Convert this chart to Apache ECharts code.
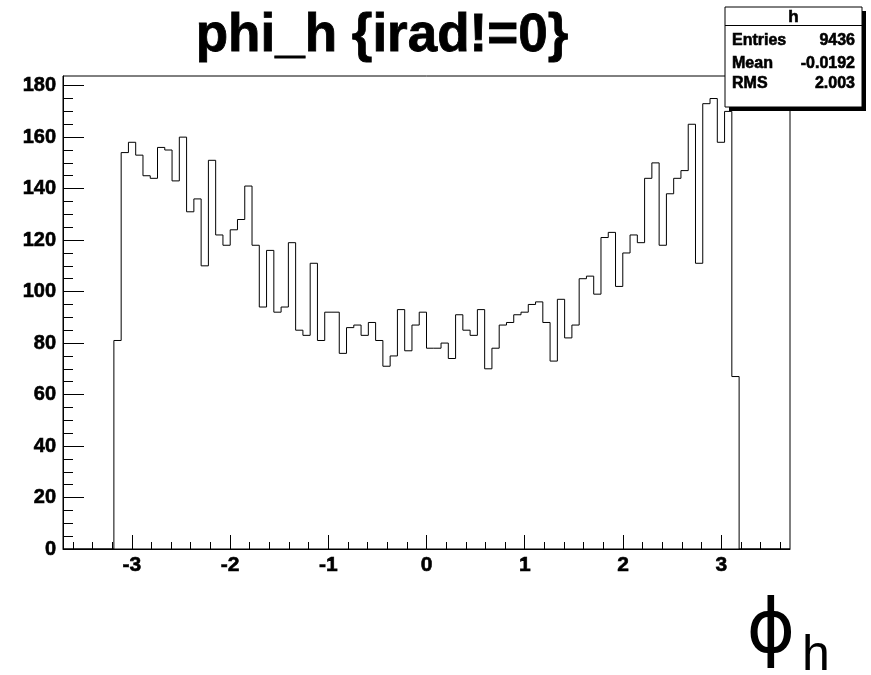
<!DOCTYPE html>
<html>
<head>
<meta charset="utf-8">
<title>phi_h {irad!=0}</title>
<script src="https://cdn.jsdelivr.net/npm/echarts@6/dist/echarts.min.js"></script>
<style>
  html, body { margin: 0; padding: 0; background: #ffffff; }
  #main { width: 871px; height: 675px; }
</style>
</head>
<body>
<div id="main"></div>
<script>
// histogram binning (100 bins over the axis range), only bins 7..92 are filled
const histMin = -3.7;
const binWidth = 0.074;
const firstFilledBin = 7;
const counts = [
  81, 154, 158, 153, 145, 144, 156, 155, 143, 160, 131, 136, 110, 151, 122, 118,
  124, 128, 141, 118, 94, 116, 92, 94, 119, 85, 83, 111, 81, 92, 92, 76,
  86, 87, 83, 88, 81, 71, 75, 93, 77, 87, 92, 78, 78, 80, 74, 91,
  85, 83, 93, 70, 78, 87, 88, 91, 92, 95, 96, 88, 73, 97, 82, 87,
  105, 106, 99, 121, 123, 102, 115, 122, 119, 144, 150, 118, 138, 144, 147, 165,
  111, 173, 175, 158, 170, 67
];

// axes
const xRange = [-3.7, 3.7];
const yRange = [0, 183.75];
const xMajorTicks = [-3, -2, -1, 0, 1, 2, 3];
const xMinorTicks = [-3.6, -3.4, -3.2, -2.8, -2.6, -2.4, -2.2, -1.8, -1.6, -1.4, -1.2,
  -0.8, -0.6, -0.4, -0.2, 0.2, 0.4, 0.6, 0.8, 1.2, 1.4, 1.6, 1.8,
  2.2, 2.4, 2.6, 2.8, 3.2, 3.4, 3.6];
const yMajorTicks = [0, 20, 40, 60, 80, 100, 120, 140, 160, 180];
const yMinorTicks = [5, 10, 15, 25, 30, 35, 45, 50, 55, 65, 70, 75, 85, 90, 95,
  105, 110, 115, 125, 130, 135, 145, 150, 155, 165, 170, 175];

// stats box
const statsName = 'h';
const statsRows = [['Entries', '9436'], ['Mean', '-0.0192'], ['RMS', '2.003']];

const chartTitle = 'phi_h {irad!=0}';

// step outline of the histogram, the way ROOT draws it
let outline = [[xRange[0], 0]];
let lo = histMin + firstFilledBin * binWidth;
outline.push([lo, 0]);
counts.forEach(function (c, i) {
  let a = histMin + (firstFilledBin + i) * binWidth;
  let b = a + binWidth;
  outline.push([a, c]);
  outline.push([b, c]);
});
let hi = histMin + (firstFilledBin + counts.length) * binWidth;
outline.push([hi, 0]);
outline.push([xRange[1], 0]);

const font = 'Liberation Sans, Arial, Helvetica, sans-serif';

let myChart = echarts.init(document.getElementById('main'));

let statsElements = [
  // shadow
  { type: 'rect', shape: { x: 729, y: 11, width: 137, height: 100 }, style: { fill: '#000' }, z: 100 },
  { type: 'rect', shape: { x: 725, y: 7, width: 137, height: 100 }, style: { fill: '#fff', stroke: '#000', lineWidth: 1 }, z: 101 },
  { type: 'line', shape: { x1: 725, y1: 25.5, x2: 862, y2: 25.5 }, style: { stroke: '#000', lineWidth: 1 }, z: 102 },
  {
    type: 'text', x: 793.5, y: 17, z: 102,
    style: { text: statsName, font: 'bold 17px ' + font, fill: '#000', align: 'center', verticalAlign: 'middle', stroke: '#000', lineWidth: 0.6 }
  }
];
let rowY = [41, 64, 84];
statsRows.forEach(function (r, i) {
  statsElements.push({
    type: 'text', x: 732, y: rowY[i], z: 102,
    style: { text: r[0], font: 'bold 16px ' + font, fill: '#000', align: 'left', verticalAlign: 'middle', stroke: '#000', lineWidth: 0.6 }
  });
  statsElements.push({
    type: 'text', x: 855, y: rowY[i], z: 102,
    style: { text: r[1], font: 'bold 16px ' + font, fill: '#000', align: 'right', verticalAlign: 'middle', stroke: '#000', lineWidth: 0.6 }
  });
});

myChart.setOption({
  animation: false,
  backgroundColor: '#ffffff',
  grid: {
    left: 63,
    top: 76,
    right: 81,
    bottom: 126,
    show: true,
    borderColor: '#000',
    borderWidth: 1,
    backgroundColor: 'transparent'
  },
  xAxis: [
    {
      type: 'value',
      min: xRange[0],
      max: xRange[1],
      position: 'bottom',
      axisLine: { show: true, onZero: false, lineStyle: { color: '#000', width: 1 } },
      axisTick: { show: true, inside: true, length: 14, customValues: xMajorTicks, lineStyle: { color: '#000' } },
      axisLabel: {
        show: true,
        customValues: xMajorTicks,
        margin: 6,
        color: '#000',
        fontFamily: font,
        fontWeight: 'bold',
        fontSize: 21,
        textBorderColor: '#000',
        textBorderWidth: 0.6
      },
      splitLine: { show: false }
    },
    {
      type: 'value',
      min: xRange[0],
      max: xRange[1],
      position: 'bottom',
      axisLine: { show: false, onZero: false },
      axisTick: { show: true, inside: true, length: 7, customValues: xMinorTicks, lineStyle: { color: '#000' } },
      axisLabel: { show: false },
      splitLine: { show: false }
    }
  ],
  yAxis: [
    {
      type: 'value',
      min: yRange[0],
      max: yRange[1],
      position: 'left',
      axisLine: { show: true, onZero: false, lineStyle: { color: '#000', width: 1 } },
      axisTick: { show: true, inside: true, length: 21, customValues: yMajorTicks, lineStyle: { color: '#000' } },
      axisLabel: {
        show: true,
        customValues: yMajorTicks,
        margin: 7,
        color: '#000',
        fontFamily: font,
        fontWeight: 'bold',
        fontSize: 20,
        textBorderColor: '#000',
        textBorderWidth: 0.6
      },
      splitLine: { show: false }
    },
    {
      type: 'value',
      min: yRange[0],
      max: yRange[1],
      position: 'left',
      offset: 0,
      axisLine: { show: false, onZero: false },
      axisTick: { show: true, inside: true, length: 10, customValues: yMinorTicks, lineStyle: { color: '#000' } },
      axisLabel: { show: false },
      splitLine: { show: false }
    }
  ],
  series: [{
    type: 'line',
    xAxisIndex: 0,
    yAxisIndex: 0,
    data: outline,
    showSymbol: false,
    symbol: 'none',
    lineStyle: { color: '#000', width: 1 },
    silent: true
  }],
  graphic: [
    {
      type: 'text', x: 382, y: 36,
      style: { text: chartTitle, font: 'bold 53px ' + font, fill: '#000', align: 'center', verticalAlign: 'middle', stroke: '#000', lineWidth: 0.8 }
    },
    {
      type: 'text', x: 771, y: 633,
      style: { text: '\u03d5', font: '74px DejaVu Sans, ' + font, fill: '#000', align: 'center', verticalAlign: 'middle' }
    },
    {
      type: 'text', x: 802, y: 656,
      style: { text: 'h', font: '50px ' + font, fill: '#000', align: 'left', verticalAlign: 'middle' }
    }
  ].concat(statsElements)
});
</script>
</body>
</html>
